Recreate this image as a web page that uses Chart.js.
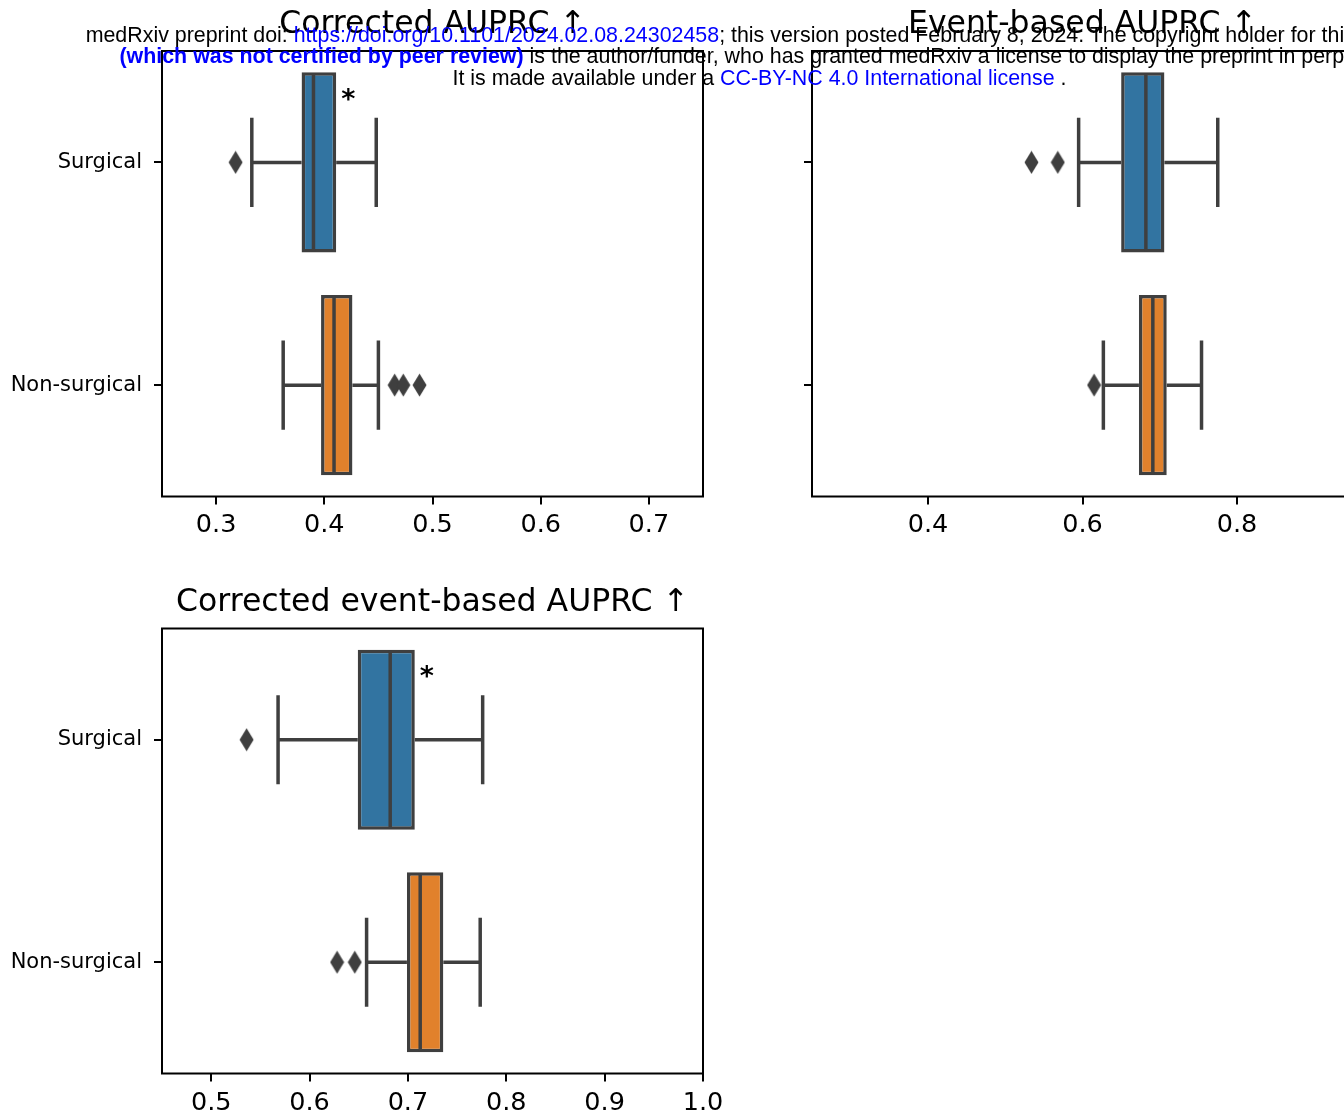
<!DOCTYPE html>
<html>
<head>
<meta charset="utf-8">
<script src="https://cdn.jsdelivr.net/npm/chart.js@4.4.1/dist/chart.umd.min.js"></script>
<style>
  html, body { margin: 0; padding: 0; width: 1344px; height: 1115px; overflow: hidden; background: #fff; }
  canvas { position: absolute; }
  #hdr { position: absolute; left: -240.5px; width: 2000px; top: 24.6px; text-align: center;
         font-family: "Liberation Sans", Arial, sans-serif; font-size: 21.4px; line-height: 21.6px;
         white-space: nowrap; color: #000; }
  #hdr .lnk { color: #0000ff; }
  #hdr b { color: #0000ff; }
</style>
</head>
<body>
<canvas id="c1" width="743" height="550" style="left:0px;top:0px;width:743px;height:550px"></canvas>
<canvas id="c2" width="640" height="550" style="left:740px;top:0px;width:640px;height:550px"></canvas>
<canvas id="c3" width="743" height="537" style="left:0px;top:578px;width:743px;height:537px"></canvas>
<div id="hdr">
  <div>medRxiv preprint doi: <span class="lnk">https://doi.org/10.1101/2024.02.08.24302458</span>; this version posted February 8, 2024. The copyright holder for this preprint</div>
  <div><b>(which was not certified by peer review)</b> is the author/funder, who has granted medRxiv a license to display the preprint in perpetuity.</div>
  <div>It is made available under a <span class="lnk">CC-BY-NC 4.0 International license</span> .</div>
</div>
<script>
// ---------------- DATA ----------------
const categories = ['Surgical', 'Non-surgical'];

// Panel A: Corrected AUPRC
const titleA = 'Corrected AUPRC \u2191';
const lowA  = [0.333, 0.362];
const q1A   = [0.379, 0.397];
const medA  = [0.390, 0.409];
const q3A   = [0.411, 0.426];
const highA = [0.448, 0.450];
const outA  = [[0.318], [0.465, 0.473, 0.488]];
const sigA  = ['*', ''];
const ticksA = [0.3, 0.4, 0.5, 0.6, 0.7];
const rangeA = [0.25, 0.75];

// Panel B: Event-based AUPRC
const titleB = 'Event-based AUPRC \u2191';
const lowB  = [0.595, 0.627];
const q1B   = [0.650, 0.673];
const medB  = [0.682, 0.691];
const q3B   = [0.706, 0.709];
const highB = [0.775, 0.754];
const outB  = [[0.534, 0.568], [0.615]];
const sigB  = ['', ''];
const ticksB = [0.4, 0.6, 0.8];
const rangeB = [0.25, 0.95];

// Panel C: Corrected event-based AUPRC
const titleC = 'Corrected event-based AUPRC \u2191';
const lowC  = [0.568, 0.658];
const q1C   = [0.649, 0.699];
const medC  = [0.682, 0.7125];
const q3C   = [0.707, 0.736];
const highC = [0.776, 0.7735];
const outC  = [[0.536], [0.628, 0.646]];
const sigC  = ['*', ''];
const ticksC = [0.5, 0.6, 0.7, 0.8, 0.9, 1.0];
const rangeC = [0.45, 1.0];

// ---------------- STYLE ----------------
const boxColors = ['#3274a1', '#e1812c'];
const lineColor = '#3f3f3f';
const lineW = 3.5;
const capHalf = 0.2;
const boxHalf = 0.4;

Chart.defaults.font.family = 'DejaVu Sans';
Chart.defaults.color = '#000';

function diamondMarker() {
  const c = document.createElement('canvas');
  c.width = 15; c.height = 24;
  const g = c.getContext('2d');
  g.fillStyle = lineColor;
  g.beginPath();
  g.moveTo(7.5, 0.5); g.lineTo(14.5, 12); g.lineTo(7.5, 23.5); g.lineTo(0.5, 12);
  g.closePath(); g.fill();
  return c;
}
const diamond = diamondMarker();

const framePlugin = {
  id: 'frame',
  afterDraw(chart) {
    const { ctx, chartArea: a } = chart;
    ctx.save();
    ctx.strokeStyle = '#000';
    ctx.lineWidth = 2;
    ctx.strokeRect(a.left, a.top, a.right - a.left, a.bottom - a.top);
    ctx.restore();
  }
};

const sigPlugin = {
  id: 'sig',
  afterDatasetsDraw(chart, args, opts) {
    const { ctx } = chart;
    const xs = chart.scales.x, ys = chart.scales.yl;
    ctx.save();
    ctx.font = 'bold 27px "DejaVu Sans"';
    ctx.fillStyle = '#000';
    ctx.textAlign = 'center';
    ctx.textBaseline = 'alphabetic';
    (opts.marks || []).forEach((m, i) => {
      if (!m) return;
      const x = xs.getPixelForValue(opts.q3[i]) + 12;
      const y = ys.getPixelForValue(i - 0.3) + 12;
      ctx.fillText(m, x, y);
    });
    ctx.restore();
  }
};

function lineDs(points) {
  return {
    type: 'line', data: points, xAxisID: 'x', yAxisID: 'yl',
    borderColor: lineColor, borderWidth: lineW, pointRadius: 0,
    fill: false, tension: 0, borderCapStyle: 'butt', order: 1
  };
}

function makePanel(id, p, geo) {
  const datasets = [];
  datasets.push({
    type: 'bar', indexAxis: 'y',
    data: categories.map((c, i) => [p.q1[i], p.q3[i]]),
    xAxisID: 'x', yAxisID: 'y',
    backgroundColor: boxColors, borderColor: lineColor, borderWidth: lineW,
    borderSkipped: false, barPercentage: 0.81, categoryPercentage: 1.0, order: 2
  });
  categories.forEach((c, i) => {
    datasets.push(lineDs([{ x: p.low[i], y: i }, { x: p.q1[i], y: i }]));
    datasets.push(lineDs([{ x: p.q3[i], y: i }, { x: p.high[i], y: i }]));
    datasets.push(lineDs([{ x: p.low[i], y: i - capHalf }, { x: p.low[i], y: i + capHalf }]));
    datasets.push(lineDs([{ x: p.high[i], y: i - capHalf }, { x: p.high[i], y: i + capHalf }]));
    datasets.push(lineDs([{ x: p.med[i], y: i - boxHalf }, { x: p.med[i], y: i + boxHalf }]));
    datasets.push({
      type: 'line', showLine: false, xAxisID: 'x', yAxisID: 'yl',
      data: p.out[i].map(v => ({ x: v, y: i })),
      pointStyle: diamond, pointRadius: 8, order: 0
    });
  });

  new Chart(document.getElementById(id), {
    type: 'bar',
    data: { labels: categories, datasets },
    plugins: [framePlugin, sigPlugin],
    options: {
      responsive: false, animation: false, events: [],
      layout: { padding: { left: 0, right: geo.padRight, top: 0, bottom: 0 } },
      plugins: {
        legend: { display: false }, tooltip: { enabled: false },
        title: {
          display: true, text: p.title, fullSize: false, color: '#000',
          font: { family: 'DejaVu Sans', size: 31.5, weight: 'normal', lineHeight: 1.2 },
          padding: { top: 6, bottom: geo.titleBottom }
        },
        sig: { marks: p.sig, q3: p.q3 }
      },
      scales: {
        x: {
          type: 'linear', position: 'bottom', min: p.range[0], max: p.range[1], offset: false,
          afterBuildTicks: s => { s.ticks = p.ticks.map(v => ({ value: v })); },
          afterFit: s => { s.height = geo.xHeight; },
          border: { display: false },
          grid: { offset: false, drawOnChartArea: false, drawTicks: true, tickLength: 8, color: '#000', lineWidth: 2 },
          ticks: { autoSkip: false, maxRotation: 0, padding: geo.xPad, color: '#000',
                   font: { family: 'DejaVu Sans', size: 25.5 },
                   callback: v => Number(v).toFixed(1) }
        },
        y: {
          type: 'category', position: 'left', offset: true,
          afterFit: s => { s.width = geo.yWidth; },
          border: { display: false },
          grid: { offset: false, drawOnChartArea: false, drawTicks: true, tickLength: 8, color: '#000', lineWidth: 2 },
          ticks: { padding: 12, color: '#000', font: { family: 'DejaVu Sans', size: 21 },
                   callback: function (v, i) { return geo.showY ? categories[i] : ''; } }
        },
        yl: {
          type: 'linear', axis: 'y', position: 'left', display: false,
          min: -0.5, max: 1.5, reverse: true, offset: false
        }
      }
    }
  });
}

makePanel('c1', { title: titleA, low: lowA, q1: q1A, med: medA, q3: q3A, high: highA, out: outA, sig: sigA, ticks: ticksA, range: rangeA },
  { padRight: 40, xHeight: 53.5, xPad: 6, titleBottom: 7.2, yWidth: 162, showY: true });
makePanel('c2', { title: titleB, low: lowB, q1: q1B, med: medB, q3: q3B, high: highB, out: outB, sig: sigB, ticks: ticksB, range: rangeB },
  { padRight: 27, xHeight: 53.5, xPad: 6, titleBottom: 7.2, yWidth: 72, showY: false });
makePanel('c3', { title: titleC, low: lowC, q1: q1C, med: medC, q3: q3C, high: highC, out: outC, sig: sigC, ticks: ticksC, range: rangeC },
  { padRight: 40, xHeight: 41.5, xPad: 7, titleBottom: 6.7, yWidth: 162, showY: true });
</script>
</body>
</html>
